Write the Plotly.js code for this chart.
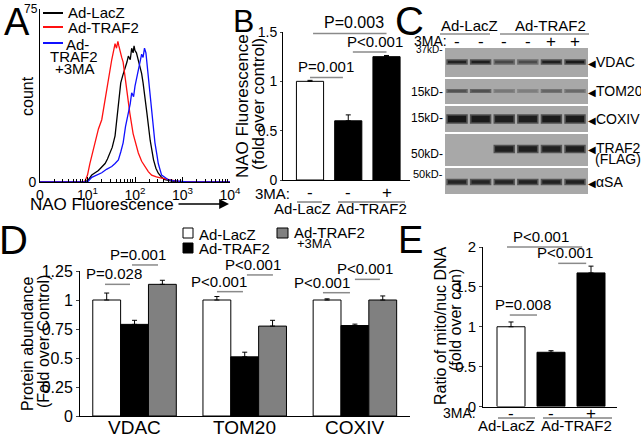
<!DOCTYPE html>
<html><head><meta charset="utf-8">
<script src="https://cdn.plot.ly/plotly-3.0.1.min.js"></script>
<style>html,body{margin:0;padding:0;background:#fff;}#chart{width:641px;height:438px;}</style>
</head><body><div id="chart"></div>
<script>
// ================= DATA =================
// Panel A: NAO fluorescence histograms (x in decades: 0 -> "0", 1 -> 10^1 ...)
const aLacZX = [0,0.95,1.02,1.09,1.16,1.23,1.3,1.37,1.42,1.47,1.52,1.58,1.62,1.65,1.7,1.74,1.79,1.83,1.86,1.9,1.93,1.96,1.98,2.0,2.03,2.07,2.1,2.14,2.17,2.21,2.25,2.32,2.39,2.44,2.49,2.56,2.63,2.75,2.9,4];
const aLacZY = [0,0,1,3,4,5,6.5,8,10,12.6,15,20,27,33,43,46,49,52,54.6,53,58,56,59,57,56,53,50,47,43,37,30,18,9.6,6,3.8,2,1,0.5,0,0];
const aTRAF2X = [0,0.9,0.95,1.0,1.05,1.1,1.16,1.23,1.3,1.37,1.44,1.51,1.55,1.58,1.61,1.64,1.66,1.68,1.72,1.75,1.78,1.82,1.89,1.96,2.02,2.07,2.14,2.21,2.28,2.35,2.45,2.56,2.7,2.85,3.0,4];
const aTRAF2Y = [0,0,0.5,3,8,12,18,23,27,36,46,53,57,60,58,61,59,57,54,52,47,41,30,21,16,12.6,9,6.7,4.5,3,2.2,1.7,1,0.5,0,0];
const aMAX = [0,1.0,1.09,1.2,1.3,1.4,1.51,1.58,1.65,1.7,1.75,1.8,1.86,1.9,1.93,1.97,2.0,2.04,2.07,2.1,2.14,2.17,2.2,2.23,2.26,2.28,2.32,2.35,2.39,2.42,2.46,2.49,2.56,2.63,2.7,2.8,2.9,3.1,4];
const aMAY = [0,0,2,3,4,5.5,6.7,8,9.6,13,17,24,30,34,38.7,37,41.6,46,49,52,55.4,54,58,56,50,44.5,36,30,22,17,12,8,3,2,1,0.6,0.3,0,0];
const aTickVals = [0,1,2,3,4];
const aTickText = ['0','10<sup>1</sup>','10<sup>2</sup>','10<sup>3</sup>','10<sup>4</sup>'];

// Panel B
const bTreat = ['-','-','+'];
const bValues = [1.0, 0.60, 1.25];
const bErrors = [0.01, 0.06, 0.012];

// Panel C: western blot band darkness (0 = no band, 1 = black)
const cLanes = [1,2,3,4,5,6];
const cTreat = ['-','-','-','-','+','+'];
const cVDAC  = [0.9,0.92,0.65,0.62,0.92,0.95];
const cTOM20 = [0.7,0.72,0.4,0.35,0.55,0.5];
const cCOXIV = [0.97,0.95,0.93,0.93,0.95,0.95];
const cTRAF2 = [0,0,0.92,0.92,0.9,0.93];
const cASA   = [0.88,0.88,0.88,0.9,0.9,0.9];

// Panel D
const dCategories = ['VDAC','TOM20','COXIV'];
const dLacZ = [1.0, 1.0, 1.0];
const dLacZErr = [0.06, 0.03, 0.01];
const dTRAF2 = [0.79, 0.51, 0.78];
const dTRAF2Err = [0.035, 0.04, 0.012];
const dTRAF2MA = [1.135, 0.775, 1.0];
const dTRAF2MAErr = [0.035, 0.05, 0.035];

// Panel E
const eTreat = ['-','-','+'];
const eValues = [1.0, 0.68, 1.675];
const eErrors = [0.06, 0.02, 0.085];

// ================= LAYOUT HELPERS =================
const W=641, H=438, F='"Liberation Sans", Arial, sans-serif';
const P = v => v/W, Q = v => 1 - v/H;
const AX = {
  A:{x:[40,230],  xr:[0,4],           y:[182,9],    yr:[0,75]},
  B:{x:[283,410], xr:[-0.706,2.614],  y:[180,32],   yr:[0,1.5]},
  C:{x:[445,588], xr:[0.49,6.55],     y:[194,48],   yr:[194,48]},
  D:{x:[80,410],  xr:[-0.495,2.5],    y:[416,271],  yr:[0,1.25]},
  E:{x:[483,617], xr:[-0.7,2.65],     y:[406.5,247],yr:[0,2]}
};
const mapX = (k,v) => { const a=AX[k]; return a.x[0]+(v-a.xr[0])/(a.xr[1]-a.xr[0])*(a.x[1]-a.x[0]); };
const mapY = (k,v) => { const a=AX[k]; return a.y[0]+(v-a.yr[0])/(a.yr[1]-a.yr[0])*(a.y[1]-a.y[0]); };
const posB = [0,1,2], posE = [0,1,2];
const barWB = 0.71, barWE = 0.7;

function axis(k, letter, extra){
  const a = AX[k];
  const d = letter==='x' ? [a.x[0]/W, a.x[1]/W] : [1-a.y[0]/H, 1-a.y[1]/H];
  return Object.assign({domain:d, range:(letter==='x'?a.xr:a.yr).slice(), showline:true, linecolor:'#000', linewidth:1,
    zeroline:false, showgrid:false, fixedrange:true, ticks:'', tickfont:{family:F,size:14,color:'#000'}}, extra||{});
}
const anns = [], shapes = [];
function T(x,y,text,size,o){ anns.push(Object.assign({xref:'paper',yref:'paper',x:P(x),y:Q(y),text:text,showarrow:false,
  font:{family:F,size:size,color:'#000'},xanchor:'center',yanchor:'middle'},o||{})); }
function L(x0,x1,y,color,w){ shapes.push({type:'line',xref:'paper',yref:'paper',x0:P(x0),x1:P(x1),y0:Q(y),y1:Q(y),line:{color:color||'#777',width:w||1.2}}); }
function R(x0,x1,y0,y1,fill){ shapes.push({type:'rect',xref:'paper',yref:'paper',x0:P(x0),x1:P(x1),y0:Q(y0),y1:Q(y1),fillcolor:fill,line:{color:'#000',width:1}}); }
function pval(k, tx, x0, x1, yv, text, size){
  const py = mapY(k,yv);
  L(mapX(k,x0), mapX(k,x1), py, '#8a8a8a', 1.5);
  anns.push({xref:'paper',yref:'paper',x:P(mapX(k,tx)),y:Q(py),text:text,showarrow:false,xanchor:'center',yanchor:'bottom',yshift:0,
    font:{family:F,size:size||15,color:'#000'}});
}

// ================= TRACES =================
const traces = [];
// A
traces.push({x:aLacZX,y:aLacZY,type:'scatter',mode:'lines',line:{color:'#000',width:1.3},xaxis:'x',yaxis:'y'});
traces.push({x:aTRAF2X,y:aTRAF2Y,type:'scatter',mode:'lines',line:{color:'#ff1010',width:1.3},xaxis:'x',yaxis:'y'});
traces.push({x:aMAX,y:aMAY,type:'scatter',mode:'lines',line:{color:'#1010ff',width:1.3},xaxis:'x',yaxis:'y'});
// B
const errOpt = (arr) => ({type:'data',array:arr,arrayminus:arr.map(()=>0),symmetric:false,color:'#000',thickness:1,width:2.5});
traces.push({type:'bar',x:posB,y:bValues,width:barWB,xaxis:'x2',yaxis:'y2',
  marker:{color:['#fff','#000','#000'],line:{color:'#000',width:1}},error_y:errOpt(bErrors)});
// C: blot bands
const cRowData = [cVDAC,cTOM20,cCOXIV,cTRAF2,cASA];
const cRowCenter = [62,91,119,149,182];   // layout (pixel rows of the blot)
const cRowThick = [4,2.5,8,7,5];
const bx=[], by=[], bb=[], bc=[], blc=[];
cRowData.forEach((row,r)=>row.forEach((v,i)=>{ if(v>0){ bx.push(cLanes[i]); by.push(cRowThick[r]); bb.push(cRowCenter[r]-cRowThick[r]/2);
  const g=Math.round(168-v*150), g2=Math.round(168-v*95); bc.push(`rgb(${g},${g},${g})`); blc.push(`rgb(${g2},${g2},${g2})`);} }));
traces.push({type:'bar',x:bx,y:by,base:bb,width:0.84,xaxis:'x3',yaxis:'y3',marker:{color:bc,line:{width:1.6,color:blc}}});
// D
traces.push({type:'bar',name:'Ad-LacZ',x:dCategories,y:dLacZ,xaxis:'x4',yaxis:'y4',marker:{color:'#fff',line:{color:'#000',width:1}},error_y:errOpt(dLacZErr)});
traces.push({type:'bar',name:'Ad-TRAF2',x:dCategories,y:dTRAF2,xaxis:'x4',yaxis:'y4',marker:{color:'#000',line:{color:'#000',width:1}},error_y:errOpt(dTRAF2Err)});
traces.push({type:'bar',name:'Ad-TRAF2 +3MA',x:dCategories,y:dTRAF2MA,xaxis:'x4',yaxis:'y4',marker:{color:'#808080',line:{color:'#000',width:1}},error_y:errOpt(dTRAF2MAErr)});
// E
traces.push({type:'bar',x:posE,y:eValues,width:barWE,xaxis:'x5',yaxis:'y5',
  marker:{color:['#fff','#000','#000'],line:{color:'#000',width:1}},error_y:errOpt(eErrors)});

// ================= ANNOTATIONS / SHAPES =================
const TRI = '<span style="font-size:10px">◀</span>';
// Panel A
T(17,22,'A',38);
T(40,9,'75',12,{xanchor:'right'});
L(43,63,13,'#000',2); T(66,13,'Ad-LacZ',15,{xanchor:'left'});
L(43,63,27,'#ff1010',2); T(66,27,'Ad-TRAF2',15,{xanchor:'left'});
L(43,63,43,'#1010ff',2); T(77,44,'Ad-',15); T(74,57,'TRAF2',15); T(75,69,'+3MA',15);
T(27,96,'count',16,{textangle:-90});
T(102,205,'NAO Fluorescence',17);
anns.push({xref:'paper',yref:'paper',x:P(229),y:Q(204),ax:-52,ay:0,text:'',showarrow:true,arrowhead:2,arrowsize:1.4,arrowwidth:1.4,arrowcolor:'#000'});
// Panel B
T(243,21,'B',32);
T(243,106,'NAO Fluorescence',17,{textangle:-90});
T(258,104,'(fold over control)',17,{textangle:-90});
T(292,193,'3MA:',15,{xanchor:'right'});
bTreat.forEach((t,i)=>T(mapX('B',posB[i]),192,t,17));
T(302,208,'Ad-LacZ',15); T(371,208,'Ad-TRAF2',15);
L(297,322,202,'#444',1); L(338,405,202,'#444',1);
pval('B',0.42,0,0.86,1.04,'P=0.001',15);
pval('B',1.15,0.08,2.0,1.485,'P=0.003',16);
pval('B',1.70,1.12,2.0,1.297,'P<0.001',15);
// Panel C
T(409,21,'C',40);
T(469,26,'Ad-LacZ',15); T(550,26,'Ad-TRAF2',15);
L(440,490,34,'#555',1); L(500,589,34,'#555',1);
T(431,41,'3MA:',14);
cTreat.forEach((t,i)=>T(mapX('C',cLanes[i]),42,t,17));
[['37kD-',50,10],['15kD-',92,12],['15kD-',118,12],['50kD-',154,12],['50kD-',174,11]].forEach(a=>T(445,a[1],a[0],a[2],{xanchor:'right'}));
[['VDAC',62],['TOM20',91],['COXIV',119],['TRAF2',148],['αSA',182]].forEach(a=>T(586,a[1],TRI+a[0],14,{xanchor:'left'}));
T(593,159,'(FLAG)',14,{xanchor:'left'});
const cStrips = [[48,77],[79,104],[106,132],[134,166],[168,194]];
cStrips.forEach(s=>shapes.push({type:'rect',xref:'paper',yref:'paper',x0:P(445),x1:P(588),y0:Q(s[1]),y1:Q(s[0]),fillcolor:'#a8a8a8',line:{width:0},layer:'below'}));
// Panel D
T(13,240,'D',40);
R(183,193,228,238,'#fff'); T(197,234,'Ad-LacZ',15,{xanchor:'left'});
R(183,193,243,253,'#000'); T(197,248,'Ad-TRAF2',15,{xanchor:'left'});
R(277,288,228,238,'#808080'); T(292,232,'Ad-TRAF2',15,{xanchor:'left'}); T(295,243,'+3MA',13,{xanchor:'left'});
T(27,344,'Protein abundance',16,{textangle:-90});
T(43,342,'(Fold over Control)',16,{textangle:-90});
dCategories.forEach((c,i)=>T(mapX('D',i),427,c,19));
pval('D',-0.182,-0.268,-0.041,1.135,'P=0.028');
pval('D',0.031,-0.023,0.213,1.302,'P=0.001');
pval('D',0.762,0.748,0.984,1.072,'P<0.001');
pval('D',1.079,1.02,1.256,1.216,'P<0.001');
pval('D',1.697,1.71,1.955,1.063,'P<0.001');
pval('D',2.091,2.0,2.227,1.178,'P<0.001');
// Panel E
T(410,240,'E',38);
T(440,326,'Ratio of mito/nuc DNA',16,{textangle:-90});
T(455,320,'(fold over con)',16,{textangle:-90});
T(478,413,'3MA:',14,{xanchor:'right'});
eTreat.forEach((t,i)=>T(mapX('E',posE[i]),413,t,17));
T(506,425,'Ad-LacZ',15); T(576,425,'Ad-TRAF2',15);
L(498,535,418,'#444',1); L(543,612,418,'#444',1);
pval('E',0.74,-0.1,1.78,2.0,'P<0.001');
pval('E',1.36,1.18,1.88,1.795,'P<0.001');
pval('E',0.3,-0.03,0.65,1.147,'P=0.008');

// ================= AXES =================
const minorA = [];
[0,1,2,3].forEach(d=>[2,3,4,5,6,7,8,9].forEach(m=>minorA.push(d+Math.log10(m))));
const layout = {
  width:W, height:H, margin:{l:0,r:0,t:0,b:0}, paper_bgcolor:'#fff', plot_bgcolor:'rgba(0,0,0,0)',
  showlegend:false, barmode:'group', bargap:0.242, bargroupgap:0,
  font:{family:F,color:'#000'},
  xaxis: axis('A','x',{anchor:'y',tickvals:aTickVals,ticktext:aTickText,ticks:'inside',ticklen:5,tickcolor:'#000',
    minor:{tickvals:minorA,ticks:'inside',ticklen:3,tickcolor:'#000'}}),
  yaxis: axis('A','y',{anchor:'x',tickvals:[0],ticktext:['0']}),
  xaxis2: axis('B','x',{anchor:'y2',showticklabels:false}),
  yaxis2: axis('B','y',{anchor:'x2',tickvals:[0,0.5,1,1.5],ticktext:['0','0.5','1','1.5'],ticks:'outside',ticklen:2}),
  xaxis3: axis('C','x',{anchor:'y3',visible:false}),
  yaxis3: axis('C','y',{anchor:'x3',visible:false}),
  xaxis4: axis('D','x',{anchor:'y4',type:'category',showticklabels:false}),
  yaxis4: axis('D','y',{anchor:'x4',tickvals:[0,0.25,0.5,0.75,1,1.25],ticktext:['0','0.25','0.5','0.75','1','1.25'],ticks:'outside',ticklen:3,tickfont:{family:F,size:16,color:'#000'}}),
  xaxis5: axis('E','x',{anchor:'y5',showticklabels:false}),
  yaxis5: axis('E','y',{anchor:'x5',tickvals:[0,0.5,1,1.5,2],ticktext:['0','0.5','1','1.5','2'],ticks:'outside',ticklen:3,tickfont:{family:F,size:15,color:'#000'}}),
  annotations: anns, shapes: shapes
};
Plotly.newPlot('chart', traces, layout, {staticPlot:true, displayModeBar:false});
</script></body></html>
